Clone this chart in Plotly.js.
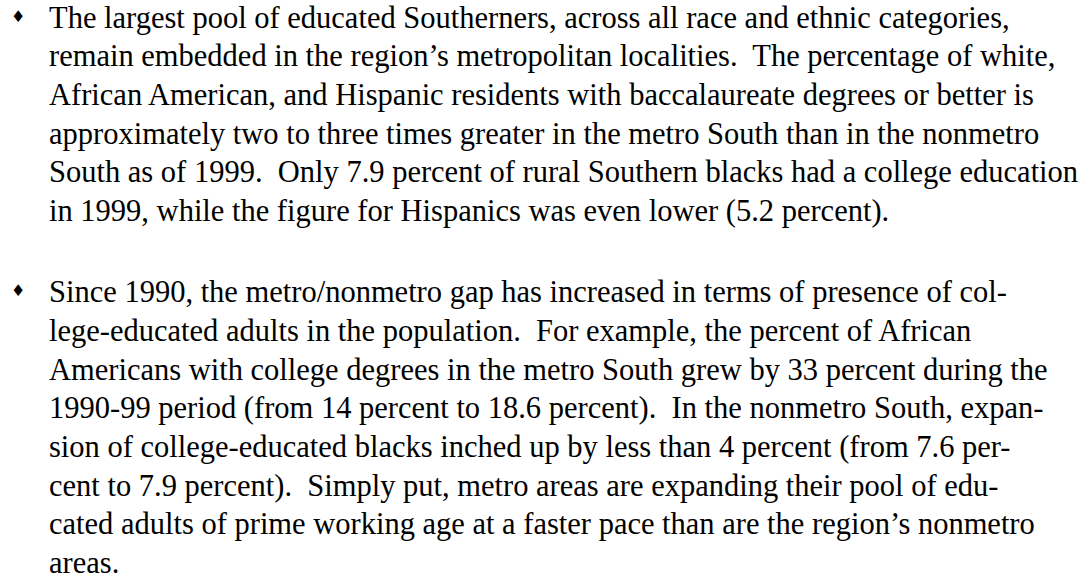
<!DOCTYPE html>
<html>
<head>
<meta charset="utf-8">
<script src="https://cdn.plot.ly/plotly-3.0.1.min.js"></script>
<style>
html,body{margin:0;padding:0;background:#fff;}
#chart{width:1087px;height:577px;}
</style>
</head>
<body>
<div id="chart"></div>
<script>
const S = "\u00a0";
const para1Lines = [
  "The largest pool of educated Southerners, across all race and ethnic categories,",
  "remain embedded in the region\u2019s metropolitan localities." + S + " The percentage of white,",
  "African American, and Hispanic residents with baccalaureate degrees or better is",
  "approximately two to three times greater in the metro South than in the nonmetro",
  "South as of 1999." + S + " Only 7.9 percent of rural Southern blacks had a college education",
  "in 1999, while the figure for Hispanics was even lower (5.2 percent)."
];
const para2Lines = [
  "Since 1990, the metro/nonmetro gap has increased in terms of presence of col-",
  "lege-educated adults in the population." + S + " For example, the percent of African",
  "Americans with college degrees in the metro South grew by 33 percent during the",
  "1990-99 period (from 14 percent to 18.6 percent)." + S + " In the nonmetro South, expan-",
  "sion of college-educated blacks inched up by less than 4 percent (from 7.6 per-",
  "cent to 7.9 percent)." + S + " Simply put, metro areas are expanding their pool of edu-",
  "cated adults of prime working age at a faster pace than are the region\u2019s nonmetro",
  "areas."
];
const paragraphs = [para1Lines, para2Lines];
const bulletChar = "\u2666";

const W = 1087, H = 577;
const textX = 47;
const bulletX = 18;
const lineH = 38.7;
const paraTop = [17.5, 292.2];
const font = {family: "Liberation Serif, Times New Roman, serif", size: 30.5, color: "#000"};

const annotations = [];
paragraphs.forEach((lines, p) => {
  annotations.push({
    x: bulletX, y: paraTop[p] - 1.5, xref: "x", yref: "y",
    text: bulletChar, showarrow: false, xanchor: "center", yanchor: "middle",
    font: {family: "DejaVu Sans", size: 16, color: "#000"}
  });
  lines.forEach((t, i) => {
    annotations.push({
      x: textX, y: paraTop[p] + i * lineH, xref: "x", yref: "y",
      text: t, showarrow: false, xanchor: "left", yanchor: "middle",
      font: font
    });
  });
});

Plotly.newPlot("chart", [], {
  width: W, height: H,
  margin: {l: 0, r: 0, t: 0, b: 0, pad: 0},
  paper_bgcolor: "#fff", plot_bgcolor: "#fff",
  xaxis: {range: [0, W], visible: false, fixedrange: true},
  yaxis: {range: [H, 0], visible: false, fixedrange: true},
  showlegend: false,
  annotations: annotations
}, {displayModeBar: false, staticPlot: true});
</script>
</body>
</html>
